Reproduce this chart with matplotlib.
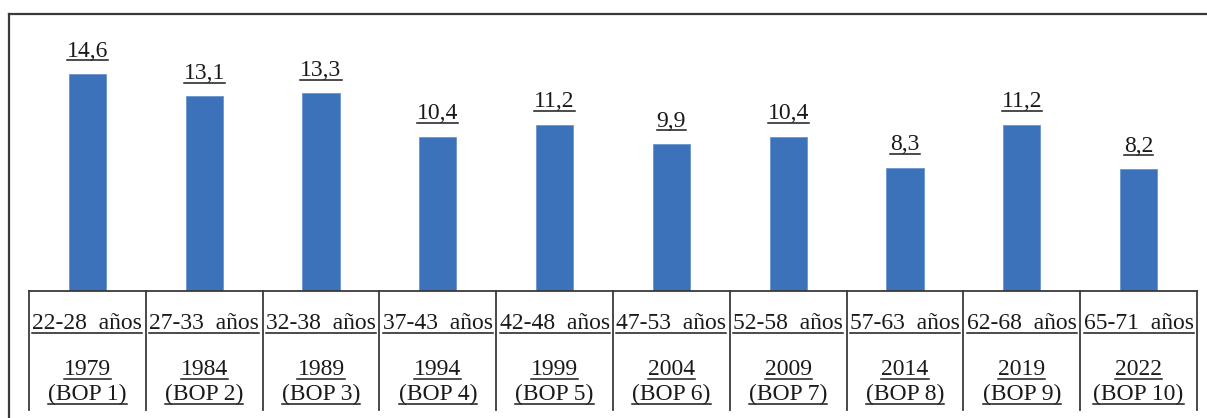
import matplotlib
matplotlib.use("Agg")
import matplotlib.pyplot as plt
from matplotlib.lines import Line2D

# Data
edades = ["22-28  años", "27-33  años", "32-38  años", "37-43  años", "42-48  años",
          "47-53  años", "52-58  años", "57-63  años", "62-68  años", "65-71  años"]
anios = ["1979", "1984", "1989", "1994", "1999", "2004", "2009", "2014", "2019", "2022"]
rondas = ["(BOP 1)", "(BOP 2)", "(BOP 3)", "(BOP 4)", "(BOP 5)",
          "(BOP 6)", "(BOP 7)", "(BOP 8)", "(BOP 9)", "(BOP 10)"]
valores = [14.6, 13.1, 13.3, 10.4, 11.2, 9.9, 10.4, 8.3, 11.2, 8.2]

W, H = 1207, 418
DPI = 100
plt.rcParams["font.family"] = ["Liberation Serif", "DejaVu Serif"]

fig = plt.figure(figsize=(W / DPI, H / DPI), dpi=DPI)
fig.patch.set_facecolor("white")

TXT = "#1a1a1a"
LINE = "#3a3a3a"
FS = 17


def fx(px):
    return px / W


def fy(py):
    return (H - py) / H


# Plot area: baseline at the table's top rule
left_px, right_px = 29, 1197
base_px, top_px = 291, 14
ax = fig.add_axes([fx(left_px), fy(base_px), fx(right_px - left_px), (base_px - top_px) / H])
ymax = (base_px - top_px) / 14.85
ax.set_xlim(-0.5, len(valores) - 0.5)
ax.set_ylim(0, ymax)
ax.axis("off")

x = list(range(len(valores)))
ax.bar(x, valores, width=0.32, color="#3B72B9", edgecolor="#6a95cf", linewidth=0.6, zorder=2)

labels = []
for i, v in enumerate(valores):
    t = ax.annotate(f"{v:.1f}".replace(".", ","), xy=(i, v), xytext=(0, 12.5),
                    textcoords="offset points", ha="center", va="baseline",
                    fontsize=FS, color=TXT)
    labels.append(t)

# Outer frame (left and top edges)
fig.add_artist(Line2D([fx(9), fx(9)], [fy(14), fy(H + 5)], color=LINE, lw=1.6))
fig.add_artist(Line2D([fx(9), fx(W + 5)], [fy(14), fy(14)], color=LINE, lw=1.6))

# Table under the bars
fig.add_artist(Line2D([fx(left_px), fx(right_px)], [fy(base_px), fy(base_px)], color=LINE, lw=1.3))
col_w = (right_px - left_px) / len(valores)
for k in range(len(valores) + 1):
    xp = left_px + k * col_w
    fig.add_artist(Line2D([fx(xp), fx(xp)], [fy(base_px), fy(410)], color=LINE, lw=1.3))

table_texts = []
for i in range(len(valores)):
    cx = fx(left_px + (i + 0.5) * col_w)
    for txt, bl in ((edades[i], 329), (anios[i], 375), (rondas[i], 400)):
        t = fig.text(cx, fy(bl), txt, ha="center", va="baseline", fontsize=FS, color=TXT)
        table_texts.append((t, bl))

# Underline every label
fig.canvas.draw()
renderer = fig.canvas.get_renderer()
for t in labels:
    bb = t.get_window_extent(renderer)
    base = ax.transData.transform(t.xy)[1] + 12.5 * DPI / 72
    yline = (base - 3.5) / H
    fig.add_artist(Line2D([bb.x0 / W, bb.x1 / W], [yline, yline], color=TXT, lw=1.1))
for t, bl in table_texts:
    bb = t.get_window_extent(renderer)
    yline = fy(bl + 3.5)
    fig.add_artist(Line2D([bb.x0 / W, bb.x1 / W], [yline, yline], color=TXT, lw=1.1))

fig.savefig("out.png", dpi=DPI, facecolor="white")
